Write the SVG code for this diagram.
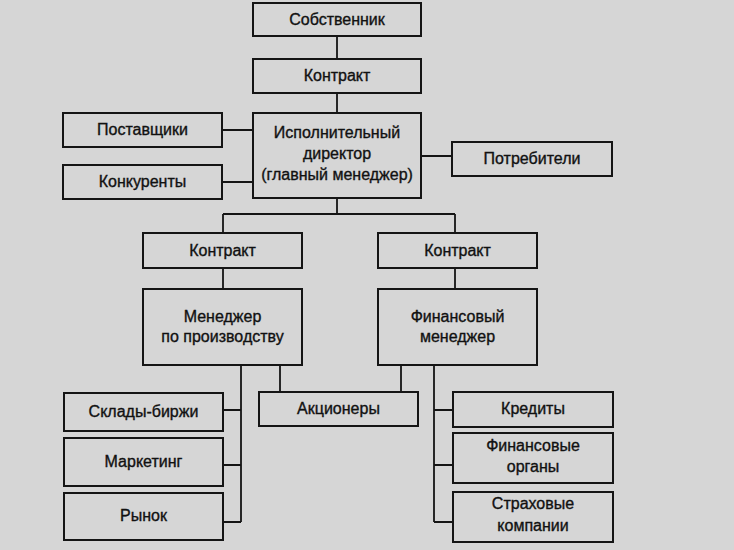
<svg xmlns="http://www.w3.org/2000/svg" width="734" height="550" viewBox="0 0 734 550">
<style>
.box{fill:#d6d6d6;stroke:#151515;stroke-width:2}
.t{font-family:"Liberation Sans",Arial,sans-serif;font-size:16px;fill:#111;stroke:#111;stroke-width:0.35;text-anchor:middle}
.c{fill:none;stroke:#151515;stroke-width:1.8}
</style>
<rect x="0" y="0" width="734" height="550" fill="#d6d6d6"/>
<g id="connectors">
<path class="c" d="M337,36V59M337,93V113M222,130H253M222,182H253M421,156H452M337,198V214M223,214H455M223,214V233M455,214V233M223,268V289M455,268V289"/>
<path class="c" d="M241,365V522M223,410H241M223,465H241M223,522H241M280,365V392M401,365V392M434,365V522M434,410H453M434,465H453M434,522H453"/>
</g>
<g id="sobstvennik"><rect class="box" x="253" y="3" width="168" height="33"/><text class="t" x="337" y="25">Собственник</text></g>
<g id="kontrakt-top"><rect class="box" x="253" y="59" width="168" height="34"/><text class="t" x="337" y="81">Контракт</text></g>
<g id="director"><rect class="box" x="253" y="113" width="168" height="85"/><text class="t" x="337" y="138">Исполнительный</text><text class="t" x="337" y="159">директор</text><text class="t" x="337" y="180">(главный менеджер)</text></g>
<g id="postavshiki"><rect class="box" x="63" y="113" width="159" height="34"/><text class="t" x="142.5" y="135">Поставщики</text></g>
<g id="konkurenty"><rect class="box" x="63" y="165" width="159" height="34"/><text class="t" x="142.5" y="187">Конкуренты</text></g>
<g id="potrebiteli"><rect class="box" x="452" y="142" width="160" height="34"/><text class="t" x="532" y="164">Потребители</text></g>
<g id="kontrakt-left"><rect class="box" x="143" y="233" width="159" height="35"/><text class="t" x="222.5" y="256">Контракт</text></g>
<g id="kontrakt-right"><rect class="box" x="378" y="233" width="159" height="35"/><text class="t" x="457.5" y="256">Контракт</text></g>
<g id="manager-prod"><rect class="box" x="143" y="289" width="159" height="76"/><text class="t" x="222.5" y="322">Менеджер</text><text class="t" x="222.5" y="342">по производству</text></g>
<g id="manager-fin"><rect class="box" x="378" y="289" width="159" height="76"/><text class="t" x="457.5" y="322">Финансовый</text><text class="t" x="457.5" y="342">менеджер</text></g>
<g id="sklady"><rect class="box" x="64" y="393" width="159" height="38"/><text class="t" x="143.5" y="417">Склады-биржи</text></g>
<g id="marketing"><rect class="box" x="64" y="438" width="159" height="48"/><text class="t" x="143.5" y="467">Маркетинг</text></g>
<g id="rynok"><rect class="box" x="64" y="493" width="159" height="47"/><text class="t" x="143.5" y="521">Рынок</text></g>
<g id="akcionery"><rect class="box" x="259" y="392" width="159" height="34"/><text class="t" x="338.5" y="414">Акционеры</text></g>
<g id="kredity"><rect class="box" x="453" y="392" width="160" height="35"/><text class="t" x="533" y="414">Кредиты</text></g>
<g id="fin-organy"><rect class="box" x="453" y="433" width="160" height="50"/><text class="t" x="533" y="451">Финансовые</text><text class="t" x="533" y="472">органы</text></g>
<g id="strahovye"><rect class="box" x="453" y="492" width="160" height="50"/><text class="t" x="533" y="509">Страховые</text><text class="t" x="533" y="531">компании</text></g>
</svg>
